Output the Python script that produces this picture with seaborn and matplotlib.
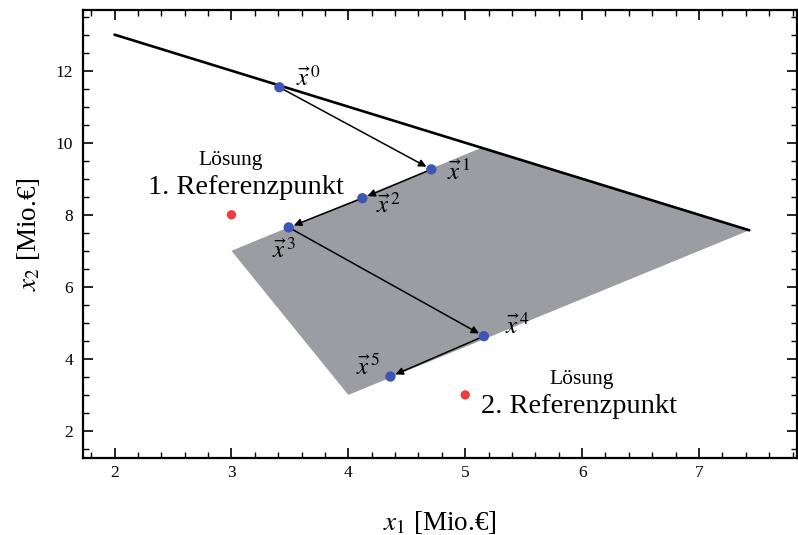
import matplotlib
matplotlib.use("Agg")
import matplotlib.pyplot as plt
from matplotlib.ticker import MultipleLocator
import numpy as np
import pandas as pd
import seaborn as sns

# Feasible region (polygon corners) in the (x1, x2) plane
region_x1 = [3.0, 5.14, 7.43, 4.0]
region_x2 = [7.0, 9.86, 7.57, 3.0]

# Constraint line x1 + x2 = 15
line_x1 = [2.0, 7.43]
line_x2 = [13.0, 7.57]

# Iterates of the interactive method
iter_names = ["0", "1", "2", "3", "4", "5"]
iter_x1 = [3.41, 4.71, 4.12, 3.49, 5.16, 4.36]
iter_x2 = [11.54, 9.26, 8.46, 7.65, 4.63, 3.51]

# Reference points
ref_x1 = [3.0, 5.0]
ref_x2 = [8.0, 3.0]
ref_texts = ["1. Referenzpunkt", "2. Referenzpunkt"]

sns.set_theme(style="white")
plt.rcParams["font.family"] = ["Liberation Serif", "DejaVu Serif"]
plt.rcParams["mathtext.fontset"] = "stix"
plt.rcParams["text.color"] = "black"
plt.rcParams["axes.labelcolor"] = "black"
plt.rcParams["xtick.color"] = "black"
plt.rcParams["ytick.color"] = "black"

fig = plt.figure(figsize=(7.98, 5.35), dpi=100)
ax = fig.add_axes([0.104, 0.144, 0.895, 0.837])

ax.fill(region_x1, region_x2, color="#9b9da3", lw=0, zorder=1)

lines_df = pd.DataFrame({"x1": line_x1, "x2": line_x2})
sns.lineplot(data=lines_df, x="x1", y="x2", color="black", lw=1.9,
             sort=False, ax=ax, zorder=2)

# arrows between consecutive iterates
for i in range(len(iter_x1) - 1):
    ax.annotate("", xy=(iter_x1[i + 1], iter_x2[i + 1]),
                xytext=(iter_x1[i], iter_x2[i]),
                arrowprops=dict(arrowstyle="-|>", color="black", lw=1.1,
                                mutation_scale=11, shrinkA=3, shrinkB=4),
                zorder=3)

iters = pd.DataFrame({"x1": iter_x1, "x2": iter_x2})
sns.scatterplot(data=iters, x="x1", y="x2", color="#3d55b5", s=55,
                edgecolor="none", ax=ax, zorder=4)

refs = pd.DataFrame({"x1": ref_x1, "x2": ref_x2})
sns.scatterplot(data=refs, x="x1", y="x2", color="#ee3b3b", s=45,
                edgecolor="none", ax=ax, zorder=4)

# iterate labels
offsets = [(17, 9), (16, -3), (14, -7), (-17, -23), (21, 10), (-34, 9)]
for name, x, y, off in zip(iter_names, iter_x1, iter_x2, offsets):
    ax.annotate(r"$\vec{x}^{\,%s}$" % name, xy=(x, y), xytext=off,
                textcoords="offset pixels", ha="left", va="center",
                fontsize=18, zorder=5)

# reference point captions
ax.text(2.99, 9.51, "Lösung", ha="center", va="center", fontsize=15.5)
ax.text(3.12, 8.76, ref_texts[0], ha="center", va="center", fontsize=20.5)
ax.text(6.0, 3.43, "Lösung", ha="center", va="center", fontsize=15.5)
ax.text(5.97, 2.68, ref_texts[1], ha="center", va="center", fontsize=20.5)

ax.set_xlim(1.73, 7.84)
ax.set_ylim(1.25, 13.68)
ax.xaxis.set_major_locator(MultipleLocator(1))
ax.xaxis.set_minor_locator(MultipleLocator(0.2))
ax.yaxis.set_major_locator(MultipleLocator(2))
ax.yaxis.set_minor_locator(MultipleLocator(0.5))
ax.tick_params(which="both", direction="in", top=True, right=True,
               bottom=True, left=True, color="black", labelcolor="black",
               labelsize=12.5)
ax.tick_params(axis="x", pad=5)
ax.tick_params(axis="y", pad=7)
ax.tick_params(which="major", length=7, width=1.2)
ax.tick_params(which="minor", length=4, width=1.0)
for sp in ax.spines.values():
    sp.set_visible(True)
    sp.set_color("black")
    sp.set_linewidth(1.6)

ax.set_xlabel(r"$x_1$ [Mio.€]", fontsize=19.5, labelpad=20, color="black")
ax.set_ylabel(r"$x_2$ [Mio.€]", fontsize=19.5, labelpad=10, color="black")

fig.savefig("out.png", dpi=100)
